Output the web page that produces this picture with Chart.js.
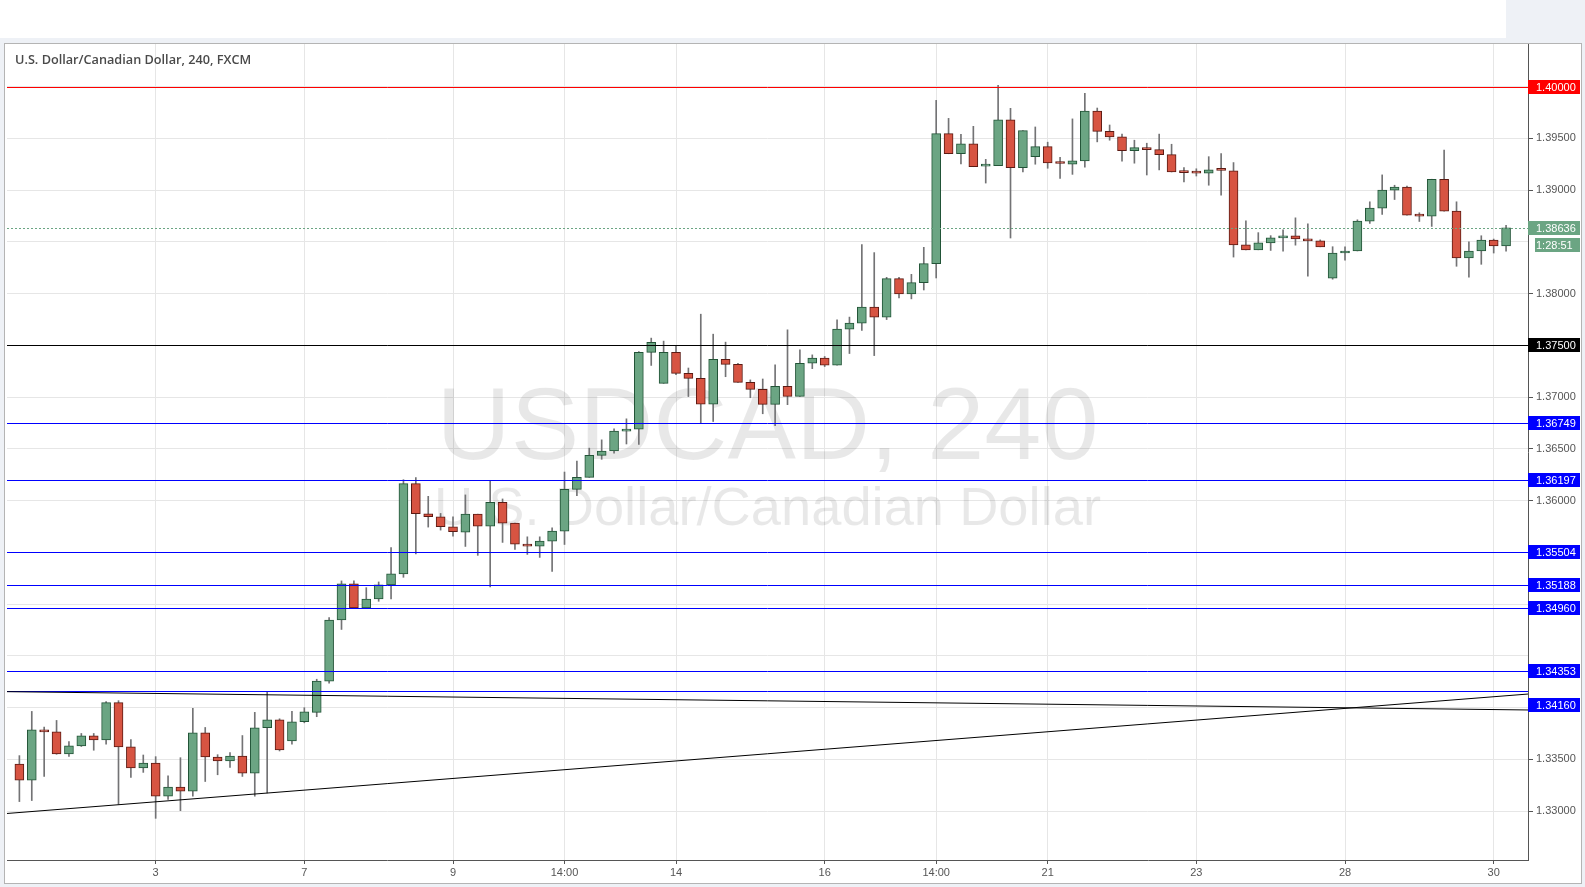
<!DOCTYPE html>
<html>
<head>
<meta charset="utf-8">
<script src="https://cdn.jsdelivr.net/npm/chart.js@4.4.1/dist/chart.umd.min.js"></script>
<style>
html, body { margin: 0; padding: 0; background: #eef1f6; }
#wrap { position: relative; width: 1585px; height: 887px; overflow: hidden; }
#toolbar { position: absolute; left: 0; top: 0; width: 1506px; height: 38px; background: #fff; }
#frame { position: absolute; left: 4px; top: 43px; width: 1578px; height: 841px; background: #fff; border: 1px solid #b4b4b4; box-sizing: border-box; }
#chart { position: absolute; left: 0; top: 0; }
</style>
</head>
<body>
<div id="wrap">
  <div id="toolbar"></div>
  <div id="frame"></div>
  <canvas id="chart" width="1585" height="887"></canvas>
</div>
<script>
// USDCAD 4h candles
const opens = [1.33456,1.33300,1.33786,1.33767,1.33553,1.33631,1.33728,1.33689,1.34049,1.33621,1.33417,1.33465,
  1.33145,1.33232,1.33193,1.33757,1.33524,1.33485,1.33533,1.33368,1.33806,1.33883,1.33679,1.33864,
  1.33955,1.34256,1.34847,1.35196,1.34963,1.35050,1.35186,1.35293,1.36165,1.35874,1.35845,1.35748,
  1.35696,1.35870,1.35754,1.35985,1.35783,1.35581,1.35561,1.35610,1.35706,1.36110,1.36226,1.36438,
  1.36480,1.36672,1.36691,1.37433,1.37134,1.37433,1.37230,1.37182,1.36932,1.37365,1.37318,1.37144,
  1.37076,1.36931,1.37105,1.37008,1.37328,1.37377,1.37309,1.37658,1.37716,1.37871,1.37774,1.38145,
  1.37997,1.38107,1.38290,1.39546,1.39352,1.39449,1.39233,1.39236,1.39681,1.39218,1.39323,1.39421,
  1.39264,1.39251,1.39284,1.39765,1.39568,1.39516,1.39382,1.39411,1.39392,1.39343,1.39178,1.39181,
  1.39165,1.39197,1.39188,1.38472,1.38424,1.38491,1.38539,1.38558,1.38529,1.38510,1.38150,1.38393,
  1.38413,1.38701,1.38827,1.39000,1.39029,1.38759,1.38750,1.39106,1.38798,1.38345,1.38413,1.38519,1.38461];
const highs = [1.33537,1.33964,1.33812,1.33877,1.33673,1.33751,1.33751,1.34058,1.34068,1.33692,1.33543,1.33527,
  1.33342,1.33517,1.33994,1.33809,1.33546,1.33566,1.33731,1.33955,1.34156,1.33893,1.33964,1.34000,
  1.34275,1.34870,1.35225,1.35225,1.35160,1.35215,1.35548,1.36203,1.36223,1.36042,1.35877,1.35845,
  1.36056,1.35870,1.36197,1.36017,1.35783,1.35651,1.35651,1.35738,1.36277,1.36383,1.36508,1.36588,
  1.36695,1.36791,1.37442,1.37571,1.37542,1.37500,1.37282,1.37802,1.37609,1.37532,1.37328,1.37167,
  1.37176,1.37312,1.37651,1.37457,1.37409,1.37393,1.37748,1.37774,1.38475,1.38397,1.38158,1.38158,
  1.38187,1.38448,1.39868,1.39694,1.39540,1.39617,1.39298,1.40013,1.39791,1.39575,1.39611,1.39464,
  1.39317,1.39689,1.39935,1.39794,1.39630,1.39542,1.39483,1.39454,1.39542,1.39444,1.39219,1.39207,
  1.39324,1.39353,1.39267,1.38704,1.38590,1.38561,1.38618,1.38733,1.38676,1.38520,1.38454,1.38454,
  1.38714,1.38888,1.39148,1.39048,1.39039,1.38782,1.39106,1.39388,1.38888,1.38502,1.38560,1.38528,1.38660];
const lows = [1.33093,1.33103,1.33336,1.33550,1.33530,1.33625,1.33589,1.33647,1.33067,1.33326,1.33375,1.32931,
  1.33115,1.33005,1.33145,1.33287,1.33352,1.33423,1.33336,1.33145,1.33177,1.33582,1.33647,1.33854,
  1.33913,1.34236,1.34756,1.34960,1.34958,1.35028,1.35050,1.35260,1.35486,1.35745,1.35716,1.35658,
  1.35558,1.35472,1.35167,1.35597,1.35529,1.35481,1.35452,1.35317,1.35577,1.36049,1.36226,1.36400,
  1.36460,1.36548,1.36543,1.37307,1.37134,1.37218,1.37006,1.36749,1.36765,1.37198,1.37144,1.36995,
  1.36840,1.36724,1.36928,1.37008,1.37276,1.37296,1.37309,1.37422,1.37645,1.37402,1.37750,1.37960,
  1.37950,1.38036,1.38152,1.39352,1.39253,1.39227,1.39069,1.39236,1.38538,1.39176,1.39251,1.39212,
  1.39114,1.39153,1.39222,1.39467,1.39483,1.39281,1.39261,1.39147,1.39196,1.39176,1.39080,1.39137,
  1.39048,1.38952,1.38354,1.38424,1.38424,1.38418,1.38412,1.38469,1.38169,1.38453,1.38140,1.38323,
  1.38413,1.38679,1.38766,1.38910,1.38759,1.38698,1.38650,1.38798,1.38265,1.38159,1.38284,1.38393,1.38410];
const closes = [1.33301,1.33786,1.33767,1.33553,1.33631,1.33728,1.33689,1.34049,1.33621,1.33417,1.33465,1.33145,
  1.33232,1.33193,1.33757,1.33524,1.33485,1.33533,1.33368,1.33806,1.33883,1.33592,1.33864,1.33961,
  1.34256,1.34847,1.35196,1.34963,1.35050,1.35186,1.35293,1.36165,1.35874,1.35845,1.35748,1.35700,
  1.35870,1.35754,1.35985,1.35783,1.35581,1.35561,1.35610,1.35706,1.36110,1.36226,1.36438,1.36480,
  1.36672,1.36691,1.37433,1.37529,1.37433,1.37230,1.37182,1.36932,1.37365,1.37317,1.37144,1.37076,
  1.36931,1.37105,1.37008,1.37328,1.37377,1.37309,1.37658,1.37716,1.37871,1.37774,1.38145,1.37997,
  1.38107,1.38290,1.39546,1.39352,1.39449,1.39227,1.39236,1.39681,1.39218,1.39575,1.39421,1.39264,
  1.39258,1.39284,1.39765,1.39568,1.39516,1.39382,1.39411,1.39392,1.39343,1.39176,1.39170,1.39165,
  1.39197,1.39191,1.38472,1.38424,1.38491,1.38539,1.38558,1.38529,1.38510,1.38453,1.38393,1.38413,
  1.38701,1.38827,1.39000,1.39029,1.38759,1.38750,1.39106,1.38798,1.38345,1.38413,1.38519,1.38461,1.38636];

// x axis labels (candle index -> text)
const xTickIdx = [11, 23, 35, 44, 53, 65, 74, 83, 95, 107, 119];
const xTickText = ['3', '7', '9', '14:00', '14', '16', '14:00', '21', '23', '28', '30'];

// price grid and which grid labels are visible
const yGrid = [1.330,1.335,1.340,1.345,1.350,1.355,1.360,1.365,1.370,1.375,1.380,1.385,1.390,1.395,1.400];
const yShown = [1.330,1.335,1.360,1.365,1.370,1.380,1.390,1.395];

// horizontal levels (label offset in px for the last one, as on the picture)
const levelPrices = [1.40000, 1.37500, 1.36749, 1.36197, 1.35504, 1.35188, 1.34960, 1.34353, 1.34160];
const levelColors = ['#ff0000', '#000000', '#0000ff', '#0000ff', '#0000ff', '#0000ff', '#0000ff', '#0000ff', '#0000ff'];
const levelLabelShift = [0, 0, 0, 0, 0, 0, 0, 0, 14];

// trend lines: [index, price] at both ends
const trendFrom = [[-1, 1.34155], [-1, 1.32978]];
const trendTo = [[121.77, 1.33978], [121.77, 1.34132]];

const lastPrice = 1.38636;
const countdown = '1:28:51';

const UP = '#6ba583', UP_LINE = '#225437', DN = '#d75442', DN_LINE = '#5b1a13', WICK = '#737375';
const idx = opens.map((_, i) => i);
const isUp = idx.map(i => closes[i] >= opens[i]);
const shown = v => yShown.some(s => Math.abs(s - v) < 1e-6);

// font size that makes text as wide as the picture shows it
function fitFont(ctx, text, weight, family, width) {
  ctx.font = weight + ' 100px ' + family;
  const size = 100 * width / ctx.measureText(text).width;
  return weight + ' ' + size.toFixed(1) + 'px ' + family;
}

const overlay = {
  id: 'overlay',
  beforeDatasetsDraw(chart) {
    const { ctx, chartArea: a } = chart;
    ctx.save();
    ctx.beginPath();
    ctx.rect(a.left, a.top, a.right - a.left, a.bottom - a.top);
    ctx.clip();
    // watermark
    const cx = (a.left + a.right) / 2;
    ctx.textAlign = 'center';
    ctx.textBaseline = 'alphabetic';
    ctx.font = fitFont(ctx, 'USDCAD, 240', 'normal', 'Arial', 662);
    ctx.fillStyle = 'rgba(0,0,0,0.09)';
    ctx.fillText('USDCAD, 240', cx, 459);
    ctx.font = fitFont(ctx, 'U.S. Dollar/Canadian Dollar', 'normal', 'Arial', 667);
    ctx.fillText('U.S. Dollar/Canadian Dollar', cx, 525);
    ctx.restore();
  },
  afterDatasetsDraw(chart) {
    const { ctx, chartArea: a, scales: { x, y } } = chart;
    ctx.save();
    ctx.beginPath();
    ctx.rect(a.left, a.top, a.right - a.left, a.bottom - a.top);
    ctx.clip();
    ctx.lineWidth = 1;
    levelPrices.forEach((p, i) => {
      const py = Math.round(y.getPixelForValue(p)) + 0.5;
      ctx.strokeStyle = levelColors[i];
      ctx.beginPath(); ctx.moveTo(a.left, py); ctx.lineTo(a.right, py); ctx.stroke();
    });
    ctx.strokeStyle = '#000';
    trendFrom.forEach((f, i) => {
      const t = trendTo[i];
      ctx.beginPath();
      ctx.moveTo(x.getPixelForValue(f[0]), y.getPixelForValue(f[1]));
      ctx.lineTo(x.getPixelForValue(t[0]), y.getPixelForValue(t[1]));
      ctx.stroke();
    });
    const ly = Math.round(y.getPixelForValue(lastPrice)) + 0.5;
    ctx.strokeStyle = UP;
    ctx.setLineDash([2, 2]);
    ctx.beginPath(); ctx.moveTo(a.left, ly); ctx.lineTo(a.right, ly); ctx.stroke();
    ctx.restore();
  },
  afterDraw(chart) {
    const { ctx, chartArea: a, scales: { y } } = chart;
    ctx.save();
    ctx.font = '11px Arial';
    ctx.textBaseline = 'middle';
    ctx.textAlign = 'left';
    const box = (py, bg, text, x0) => {
      const c = Math.round(py);
      ctx.fillStyle = bg;
      ctx.fillRect(x0, c - 7, 1580 - x0, 14);
      ctx.fillStyle = '#fff';
      ctx.fillText(text, 1536, c + 0.5);
    };
    levelPrices.forEach((p, i) => box(y.getPixelForValue(p) + levelLabelShift[i], levelColors[i], p.toFixed(5), a.right));
    const ly = y.getPixelForValue(lastPrice);
    box(ly, UP, lastPrice.toFixed(5), a.right);
    box(ly + 17, UP, countdown, a.right + 7);
    // title
    ctx.fillStyle = '#4a4a4a';
    ctx.font = fitFont(ctx, 'U.S. Dollar/Canadian Dollar, 240, FXCM', '600', '"Open Sans"', 236);
    ctx.textBaseline = 'alphabetic';
    ctx.fillText('U.S. Dollar/Canadian Dollar, 240, FXCM', 15, 64);
    ctx.restore();
  }
};

new Chart(document.getElementById('chart'), {
  type: 'bar',
  data: {
    datasets: [{
      label: 'wick',
      data: idx.map(i => ({ x: i, y: [lows[i], highs[i]] })),
      backgroundColor: WICK,
      barThickness: 1,
      grouped: false,
      order: 2
    }, {
      label: 'body',
      data: idx.map(i => ({ x: i, y: [Math.min(opens[i], closes[i]), Math.max(opens[i], closes[i])] })),
      backgroundColor: isUp.map(u => u ? UP : DN),
      borderColor: isUp.map(u => u ? UP_LINE : DN_LINE),
      borderWidth: 1,
      borderSkipped: false,
      barThickness: 9,
      minBarLength: 2,
      grouped: false,
      order: 1
    }]
  },
  options: {
    responsive: false,
    animation: false,
    devicePixelRatio: 1,
    layout: { padding: { left: 7, top: 44, right: 4, bottom: 4 } },
    plugins: { legend: { display: false }, tooltip: { enabled: false } },
    scales: {
      x: {
        type: 'linear',
        min: -1,
        max: 121.77,
        offset: false,
        afterBuildTicks: s => { s.ticks = xTickIdx.map(v => ({ value: v })); },
        afterFit: s => { s.height = 23; },
        grid: { offset: false, color: '#e6e6e6', tickColor: '#555', tickLength: 4 },
        border: { color: '#555' },
        ticks: {
          autoSkip: false, maxRotation: 0, padding: 2, color: '#555',
          font: { family: 'Arial', size: 11 },
          callback: (v, i) => xTickText[i]
        }
      },
      y: {
        type: 'linear',
        position: 'right',
        min: 1.325285,
        max: 1.404126,
        afterBuildTicks: s => { s.ticks = yGrid.map(v => ({ value: v })); },
        afterFit: s => { s.width = 53; },
        grid: {
          color: '#e6e6e6',
          tickColor: c => (c.tick && shown(c.tick.value)) ? '#555' : 'rgba(0,0,0,0)',
          tickLength: 5
        },
        border: { color: '#555' },
        ticks: {
          autoSkip: false, padding: 3, color: '#555',
          font: { family: 'Arial', size: 11 },
          callback: v => shown(v) ? v.toFixed(5) : ''
        }
      }
    }
  },
  plugins: [overlay]
});
</script>
</body>
</html>
